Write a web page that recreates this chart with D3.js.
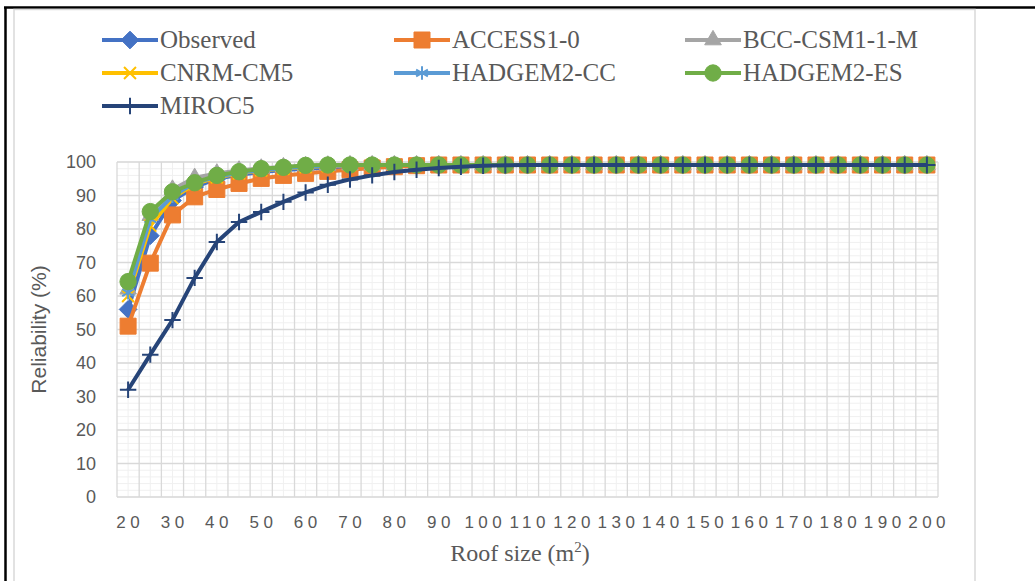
<!DOCTYPE html>
<html>
<head>
<meta charset="utf-8">
<script src="https://cdn.jsdelivr.net/npm/d3@7"></script>
<style>
    body { margin: 0; background: #fff; }
    .tick text { fill: #595959; }
</style>
</head>
<body>
<script>

//SVG dimension variables
var w = 1035, h = 581;

//roof size categories (m2)
var roofSizes = [20, 25, 30, 35, 40, 45, 50, 55, 60, 65, 70, 75, 80, 85, 90, 95, 100,
    105, 110, 115, 120, 125, 130, 135, 140, 145, 150, 155, 160, 165, 170, 175, 180,
    185, 190, 195, 200];

//x tick labels (every other category)
var xTickLabels = [20, 30, 40, 50, 60, 70, 80, 90, 100, 110, 120, 130, 140, 150, 160, 170, 180, 190, 200];

//y tick labels
var yTickLabels = [0, 10, 20, 30, 40, 50, 60, 70, 80, 90, 100];

//reliability (%), one value per roof size
var observed = [56, 78, 88.5, 92.5, 95, 96.2, 97, 97.6, 98, 98.3, 98.6, 98.8, 98.9, 99, 99.1, 99.1,
    99.1, 99.1, 99.1, 99.1, 99.1, 99.1, 99.1, 99.1, 99.1, 99.1, 99.1, 99.1, 99.1, 99.1, 99.1,
    99.1, 99.1, 99.1, 99.1, 99.1, 99.1];
var access10 = [51, 69.8, 84.2, 89.6, 91.8, 93.6, 95.1, 96, 96.6, 97.2, 97.7, 98.2, 98.6, 98.9, 99.1, 99.1,
    99.1, 99.1, 99.1, 99.1, 99.1, 99.1, 99.1, 99.1, 99.1, 99.1, 99.1, 99.1, 99.1, 99.1, 99.1,
    99.1, 99.1, 99.1, 99.1, 99.1, 99.1];
var bccCsm = [62, 84, 91.8, 95.3, 96.6, 97.5, 98.1, 98.5, 98.8, 99, 99.1, 99.1, 99.1, 99.1, 99.1, 99.1,
    99.1, 99.1, 99.1, 99.1, 99.1, 99.1, 99.1, 99.1, 99.1, 99.1, 99.1, 99.1, 99.1, 99.1, 99.1,
    99.1, 99.1, 99.1, 99.1, 99.1, 99.1];
var cnrmCm5 = [60, 81, 89.2, 93.4, 95.4, 96.6, 97.5, 98, 98.5, 98.8, 99, 99.1, 99.1, 99.1, 99.1, 99.1,
    99.1, 99.1, 99.1, 99.1, 99.1, 99.1, 99.1, 99.1, 99.1, 99.1, 99.1, 99.1, 99.1, 99.1, 99.1,
    99.1, 99.1, 99.1, 99.1, 99.1, 99.1];
var hadgemCC = [61, 83, 89.8, 93.8, 95.6, 96.8, 97.6, 98.1, 98.6, 98.9, 99, 99.1, 99.1, 99.1, 99.1, 99.1,
    99.1, 99.1, 99.1, 99.1, 99.1, 99.1, 99.1, 99.1, 99.1, 99.1, 99.1, 99.1, 99.1, 99.1, 99.1,
    99.1, 99.1, 99.1, 99.1, 99.1, 99.1];
var hadgemES = [64.3, 85.2, 91.1, 93.8, 96, 97.1, 98, 98.4, 99, 99.1, 99.1, 99.1, 99.1, 99.1, 99.1, 99.1,
    99.1, 99.1, 99.1, 99.1, 99.1, 99.1, 99.1, 99.1, 99.1, 99.1, 99.1, 99.1, 99.1, 99.1, 99.1,
    99.1, 99.1, 99.1, 99.1, 99.1, 99.1];
var miroc5 = [32, 42.5, 52.8, 65.4, 76.1, 82.1, 85.1, 88.1, 90.9, 93.2, 94.8, 96, 97, 97.7, 98.2, 98.6,
    98.9, 99, 99.1, 99.1, 99.1, 99.1, 99.1, 99.1, 99.1, 99.1, 99.1, 99.1, 99.1, 99.1, 99.1,
    99.1, 99.1, 99.1, 99.1, 99.1, 99.1];

//series names and colors
var seriesNames = ["Observed", "ACCESS1-0", "BCC-CSM1-1-M", "CNRM-CM5", "HADGEM2-CC", "HADGEM2-ES", "MIROC5"];
var seriesColors = ["#4472C4", "#ED7D31", "#A5A5A5", "#FFC000", "#5B9BD5", "#70AD47", "#264478"];

window.onload = function(){

    var svg = d3.select("body")
        .append("svg")
        .attr("width", w)
        .attr("height", h)
        .style("display", "block");

    //page frame lines (black) and chart area border (gray)
    svg.append("line")
        .attr("x1", 4).attr("x2", w)
        .attr("y1", 7.5).attr("y2", 7.5)
        .style("stroke", "#000")
        .style("stroke-width", 2.5);
    svg.append("line")
        .attr("x1", 5.5).attr("x2", 5.5)
        .attr("y1", 7).attr("y2", h)
        .style("stroke", "#000")
        .style("stroke-width", 2.5);
    svg.append("rect")
        .attr("x", 14)
        .attr("y", 9.5)
        .attr("width", 961)
        .attr("height", 600)
        .style("fill", "#fff")
        .style("stroke", "#d9d9d9")
        .style("stroke-width", 1.5);

    //category scale for roof sizes, linear scale for reliability
    var x = d3.scaleBand()
        .domain(roofSizes)
        .range([117, 938]);

    var y = d3.scaleLinear()
        .domain([0, 100])
        .range([497, 162]);

    //center of a category
    var cx = function(c){
        return x(c) + x.bandwidth() / 2;
    };

    var grid = svg.append("g").attr("class", "grid");

    //minor horizontal gridlines every 2 %
    grid.selectAll(".minorH")
        .data(d3.range(0, 101, 2))
        .enter()
        .append("line")
        .attr("class", "minorH")
        .attr("x1", 117).attr("x2", 938)
        .attr("y1", function(d){ return y(d); })
        .attr("y2", function(d){ return y(d); })
        .style("stroke", "#f0f0f0")
        .style("stroke-width", 1);

    //minor vertical gridlines at category centers
    grid.selectAll(".minorV")
        .data(roofSizes)
        .enter()
        .append("line")
        .attr("class", "minorV")
        .attr("x1", function(d){ return cx(d); })
        .attr("x2", function(d){ return cx(d); })
        .attr("y1", y(100)).attr("y2", y(0))
        .style("stroke", "#f0f0f0")
        .style("stroke-width", 1);

    //major horizontal gridlines
    grid.selectAll(".majorH")
        .data(yTickLabels)
        .enter()
        .append("line")
        .attr("class", "majorH")
        .attr("x1", 117).attr("x2", 938)
        .attr("y1", function(d){ return y(d); })
        .attr("y2", function(d){ return y(d); })
        .style("stroke", "#d9d9d9")
        .style("stroke-width", 1.3);

    //major vertical gridlines at category boundaries
    var bounds = roofSizes.map(function(d){ return x(d); }).concat([x.range()[1]]);
    grid.selectAll(".majorV")
        .data(bounds)
        .enter()
        .append("line")
        .attr("class", "majorV")
        .attr("x1", function(d){ return d; })
        .attr("x2", function(d){ return d; })
        .attr("y1", y(100)).attr("y2", y(0))
        .style("stroke", "#d9d9d9")
        .style("stroke-width", 1.3);

    //y axis (labels only)
    var yAxis = d3.axisLeft(y)
        .tickValues(yTickLabels)
        .tickSize(0)
        .tickPadding(0);

    svg.append("g")
        .attr("class", "axis")
        .attr("transform", "translate(96,0)")
        .call(yAxis)
        .call(function(g){ g.select(".domain").remove(); })
        .selectAll("text")
        .style("font-family", "'Liberation Sans', Arial, sans-serif")
        .style("font-size", "18px");

    //x axis, labels on every other category
    var xAxis = d3.axisBottom(x)
        .tickValues(xTickLabels)
        .tickSize(0)
        .tickPadding(0);

    svg.append("g")
        .attr("class", "axis")
        .attr("transform", "translate(0,516)")
        .call(xAxis)
        .call(function(g){ g.select(".domain").remove(); })
        .selectAll("text")
        .attr("dx", "2.2px")
        .style("font-family", "'Liberation Sans', Arial, sans-serif")
        .style("font-size", "17px")
        .style("letter-spacing", "4.5px");

    //axis titles
    svg.append("text")
        .attr("transform", "translate(46," + ((y(0) + y(100)) / 2) + ") rotate(-90)")
        .attr("text-anchor", "middle")
        .style("font-family", "'Liberation Sans', Arial, sans-serif")
        .style("font-size", "21px")
        .style("fill", "#595959")
        .text("Reliability (%)");

    var xTitle = svg.append("text")
        .attr("x", 520)
        .attr("y", 561)
        .attr("text-anchor", "middle")
        .style("font-family", "'Liberation Serif', 'Times New Roman', serif")
        .style("font-size", "24px")
        .style("fill", "#595959");
    xTitle.append("tspan").text("Roof size (m");
    xTitle.append("tspan").attr("dy", "-9").style("font-size", "15px").text("2");
    xTitle.append("tspan").attr("dy", "9").text(")");

    //marker generators for each series
    var markers = [
        { type: d3.symbolDiamond2, size: 200, filled: true },
        { type: d3.symbolSquare, size: 256, filled: true },
        { type: d3.symbolTriangle, size: 120, filled: true },
        { type: d3.symbolX, size: 95, filled: false },
        { type: d3.symbolAsterisk, size: 130, filled: false },
        { type: d3.symbolCircle, size: 210, filled: true },
        { type: d3.symbolPlus, size: 90, filled: false }
    ];

    var allSeries = [observed, access10, bccCsm, cnrmCm5, hadgemCC, hadgemES, miroc5];

    var line = d3.line()
        .x(function(d, i){ return cx(roofSizes[i]); })
        .y(function(d){ return y(d); });

    //draw each series in order, later ones on top
    allSeries.forEach(function(values, s){
        var g = svg.append("g").attr("class", "series");

        g.append("path")
            .datum(values)
            .attr("d", line)
            .style("fill", "none")
            .style("stroke", seriesColors[s])
            .style("stroke-width", 4)
            .style("stroke-linejoin", "round");

        var m = markers[s];
        g.selectAll(".marker")
            .data(values)
            .enter()
            .append("path")
            .attr("class", "marker")
            .attr("transform", function(d, i){
                return "translate(" + cx(roofSizes[i]) + "," + y(d) + ")";
            })
            .attr("d", d3.symbol().type(m.type).size(m.size))
            .style("fill", m.filled ? seriesColors[s] : "none")
            .style("stroke", seriesColors[s])
            .style("stroke-width", m.filled ? 1 : 2);
    });

    //legend, three columns
    var legendX = [102, 394, 685];
    var legendY = [40, 73, 106];

    var legend = svg.selectAll(".legendItem")
        .data(seriesNames)
        .enter()
        .append("g")
        .attr("class", "legendItem")
        .attr("transform", function(d, i){
            return "translate(" + legendX[i % 3] + "," + legendY[Math.floor(i / 3)] + ")";
        });

    legend.append("line")
        .attr("x1", 0).attr("x2", 56)
        .attr("y1", 0).attr("y2", 0)
        .style("stroke", function(d, i){ return seriesColors[i]; })
        .style("stroke-width", 4);

    legend.append("path")
        .attr("transform", "translate(28,0)")
        .attr("d", function(d, i){ return d3.symbol().type(markers[i].type).size(markers[i].size)(); })
        .style("fill", function(d, i){ return markers[i].filled ? seriesColors[i] : "none"; })
        .style("stroke", function(d, i){ return seriesColors[i]; })
        .style("stroke-width", function(d, i){ return markers[i].filled ? 1 : 2; });

    legend.append("text")
        .attr("x", 58)
        .attr("y", 8)
        .style("font-family", "'Liberation Serif', 'Times New Roman', serif")
        .style("font-size", "25px")
        .style("fill", "#595959")
        .text(function(d){ return d; });
};

</script>
</body>
</html>
